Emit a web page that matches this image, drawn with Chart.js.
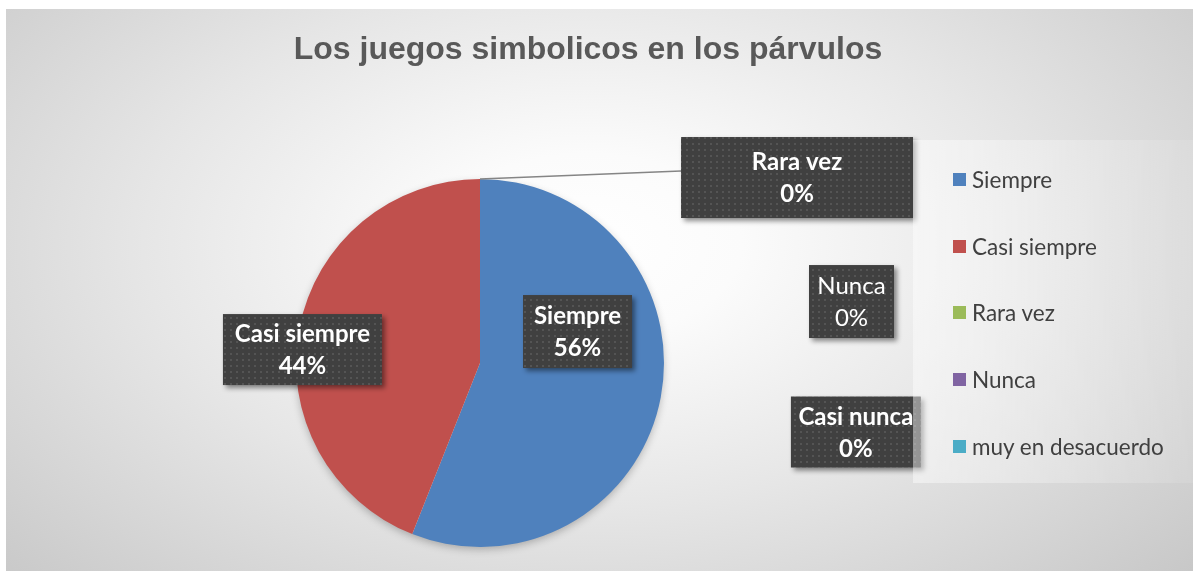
<!DOCTYPE html>
<html>
<head>
<meta charset="utf-8">
<script src="https://cdn.jsdelivr.net/npm/chart.js@4.4.1/dist/chart.umd.min.js"></script>
<style>
  html, body { margin: 0; padding: 0; background: #fff; width: 1193px; height: 571px; overflow: hidden; }
  #frame { position: absolute; left: 6px; top: 9px; width: 1187px; height: 562px;
    background: radial-gradient(ellipse 72% 90% at 49% 42%, #ffffff 0%, #fbfbfb 18%, #e6e6e6 52%, #c5c5c5 100%); }
  #frame canvas { position: absolute; left: 0; top: 0; }
  #title { position: absolute; left: 0; width: 1164px; top: 21px; line-height: 38px; text-align: center;
    font: bold 32px "Liberation Sans", Arial, sans-serif; color: #595959; }
  #legend { position: absolute; left: 907px; top: 131px; width: 280px; height: 343px; margin: 0; padding: 6px 0 0 0;
    list-style: none; box-sizing: border-box;
    background: linear-gradient(to right, rgba(255,255,255,0.45), rgba(255,255,255,0.1)); }
  #legend li { height: 66.75px; display: flex; align-items: center; padding-left: 40px;
    font: 22.5px Lato, sans-serif; color: #404040; }
  #legend i { width: 13px; height: 13px; margin-right: 6px; display: inline-block; flex: none; }
</style>
</head>
<body>
<div id="frame">
  <canvas id="pie" width="1187" height="562"></canvas>
  <div id="title">Los juegos simbolicos en los párvulos</div>
  <ul id="legend"></ul>
</div>
<script>
'use strict';
const categories = ['Siempre', 'Casi siempre', 'Rara vez', 'Nunca', 'muy en desacuerdo'];
const values = [56, 44, 0, 0, 0];
// the data labels in the source use their own names (last one differs from the legend)
const labelNames = ['Siempre', 'Casi siempre', 'Rara vez', 'Nunca', 'Casi nunca'];
const colors = ['#4f81bd', '#c0504d', '#9bbb59', '#8064a2', '#4bacc6'];

const $ = (id) => document.getElementById(id);

// dark dotted fill of the label boxes
const dots = (() => {
  const c = document.createElement('canvas');
  c.width = c.height = 6;
  const g = c.getContext('2d');
  g.fillStyle = '#404040'; g.fillRect(0, 0, 6, 6);
  g.fillStyle = '#545454'; g.fillRect(2, 2, 2, 2);
  return c;
})();

const pieShadow = {
  id: 'pieShadow',
  beforeDatasetsDraw(chart) {
    const a = chart.getDatasetMeta(0).data[0];
    const ctx = chart.ctx;
    ctx.save();
    ctx.shadowColor = 'rgba(0,0,0,0.28)';
    ctx.shadowBlur = 9; ctx.shadowOffsetY = 3;
    ctx.fillStyle = '#e8e8e8';
    ctx.beginPath(); ctx.arc(a.x, a.y, a.outerRadius - 1, 0, Math.PI * 2); ctx.fill();
    ctx.restore();
  }
};

const boxLabels = {
  id: 'boxLabels',
  afterDatasetsDraw(chart, args, opts) {
    const ctx = chart.ctx;
    const arcs = chart.getDatasetMeta(0).data;
    const total = values.reduce((s, v) => s + v, 0);
    const pat = ctx.createPattern(dots, 'repeat');
    arcs.forEach((arc, i) => {
      const r = arc.outerRadius;
      const [fx, fy] = opts.offsets[i];
      const [w, h] = opts.sizes[i];
      const cx = arc.x + fx * r, cy = arc.y + fy * r;
      const x0 = cx - w / 2, y0 = cy - h / 2;
      if (i === opts.leader) {
        ctx.save();
        ctx.strokeStyle = '#858585'; ctx.lineWidth = 1.5;
        ctx.beginPath();
        ctx.moveTo(arc.x + r * Math.cos(arc.startAngle), arc.y + r * Math.sin(arc.startAngle));
        ctx.lineTo(x0, y0 + opts.leaderY);
        ctx.stroke();
        ctx.restore();
      }
      ctx.save();
      ctx.shadowColor = 'rgba(0,0,0,0.45)';
      ctx.shadowBlur = 5; ctx.shadowOffsetX = 3; ctx.shadowOffsetY = 3;
      ctx.fillStyle = pat;
      ctx.fillRect(x0, y0, w, h);
      ctx.restore();
      ctx.save();
      ctx.fillStyle = '#ffffff';
      ctx.textAlign = 'center'; ctx.textBaseline = 'middle';
      ctx.font = (opts.bold[i] ? 'bold ' : '') + '24px Lato, sans-serif';
      ctx.fillText(labelNames[i], cx, cy - 15);
      ctx.fillText(Math.round(values[i] / total * 100) + '%', cx, cy + 17);
      ctx.restore();
    });
  }
};

new Chart($('pie'), {
  type: 'pie',
  data: {
    labels: categories,
    datasets: [{ data: values, backgroundColor: colors, borderWidth: 0, radius: 184 }],
  },
  options: {
    responsive: false, animation: false, events: [],
    layout: { padding: { left: 0, right: 239, top: 160, bottom: 14 } },
    plugins: {
      legend: { display: false }, tooltip: { enabled: false },
      boxLabels: {
        offsets: [[0.530, -0.171], [-0.965, -0.073], [1.723, -1.008], [2.019, -0.334], [2.043, 0.375]],
        sizes: [[109, 73], [159, 71], [232, 81], [85, 73], [130, 71]],
        bold: [true, true, true, false, true],
        leader: 2, leaderY: 34,
      },
    },
  },
  plugins: [pieShadow, boxLabels],
});

$('legend').innerHTML = categories
  .map((c, i) => `<li><i style="background:${colors[i]}"></i>${c}</li>`).join('');
</script>
</body>
</html>
